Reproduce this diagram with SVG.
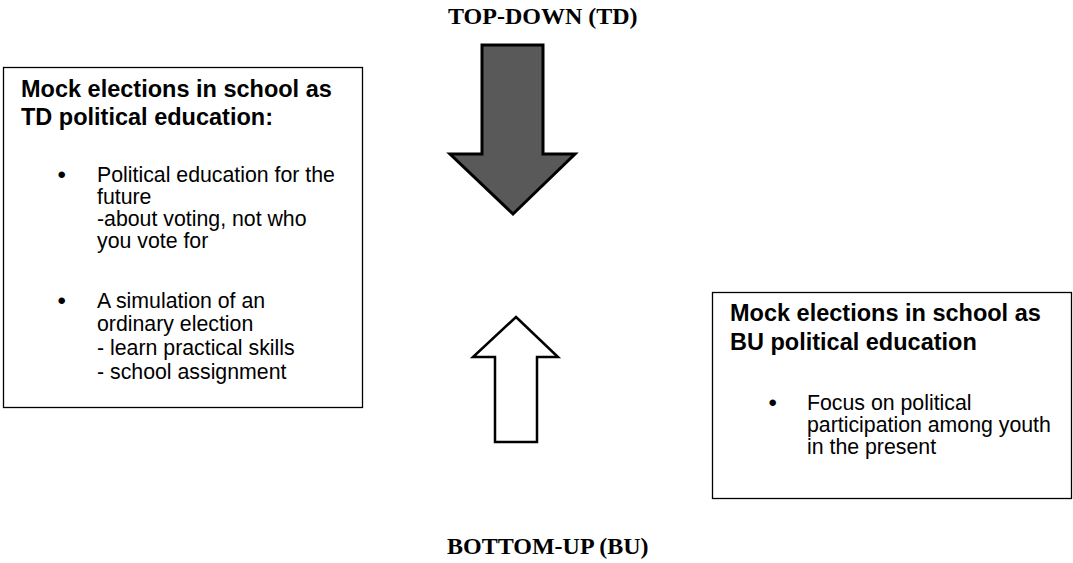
<svg xmlns="http://www.w3.org/2000/svg" width="1073" height="563" viewBox="0 0 1073 563">
<style>
.box{fill:#fff;stroke:#000;stroke-width:1.3}
.ttl{font-family:"Liberation Sans",Arial,sans-serif;font-weight:bold;font-size:23.5px;fill:#000}
.txt{font-family:"Liberation Sans",Arial,sans-serif;font-size:21.3px;fill:#000}
.bul{font-family:"Liberation Sans",Arial,sans-serif;font-size:24px;fill:#000}
.head{font-family:"Liberation Serif","Times New Roman",serif;font-weight:bold;font-size:24px;fill:#000}
</style>
<rect width="1073" height="563" fill="#fff"/>
<g id="label-top"><text class="head" x="448" y="24">TOP-DOWN (TD)</text></g>
<g id="label-bottom"><text class="head" x="447" y="554">BOTTOM-UP (BU)</text></g>
<g id="box-td">
<rect class="box" x="3.5" y="67.5" width="359" height="340"/>
<text class="ttl" x="21" y="97">Mock elections in school as</text>
<text class="ttl" x="21" y="125">TD political education:</text>
<text class="bul" x="57.5" y="183">•</text>
<text class="txt" x="97" y="182">Political education for the</text>
<text class="txt" x="97" y="204">future</text>
<text class="txt" x="97" y="226">-about voting, not who</text>
<text class="txt" x="97" y="248">you vote for</text>
<text class="bul" x="57.5" y="309">•</text>
<text class="txt" x="97" y="308">A simulation of an</text>
<text class="txt" x="97" y="331">ordinary election</text>
<text class="txt" x="97" y="355">- learn practical skills</text>
<text class="txt" x="97" y="379">- school assignment</text>
</g>
<g id="box-bu">
<rect class="box" x="712.5" y="292.5" width="359" height="206"/>
<text class="ttl" x="730" y="321">Mock elections in school as</text>
<text class="ttl" x="730" y="350">BU political education</text>
<text class="bul" x="768.5" y="411">•</text>
<text class="txt" x="807" y="410">Focus on political</text>
<text class="txt" x="807" y="432">participation among youth</text>
<text class="txt" x="807" y="454">in the present</text>
</g>
<g id="connectors">
<polygon id="arrow-down" points="482,45 543,45 543,154 575,154 513,214 450,154 482,154" fill="#595959" stroke="#000" stroke-width="3" stroke-linejoin="miter"/>
<polygon id="arrow-up" points="516,317 558,357 537,357 537,442 495,442 495,357 473,357" fill="#fff" stroke="#000" stroke-width="2.5" stroke-linejoin="miter"/>
</g>
</svg>
